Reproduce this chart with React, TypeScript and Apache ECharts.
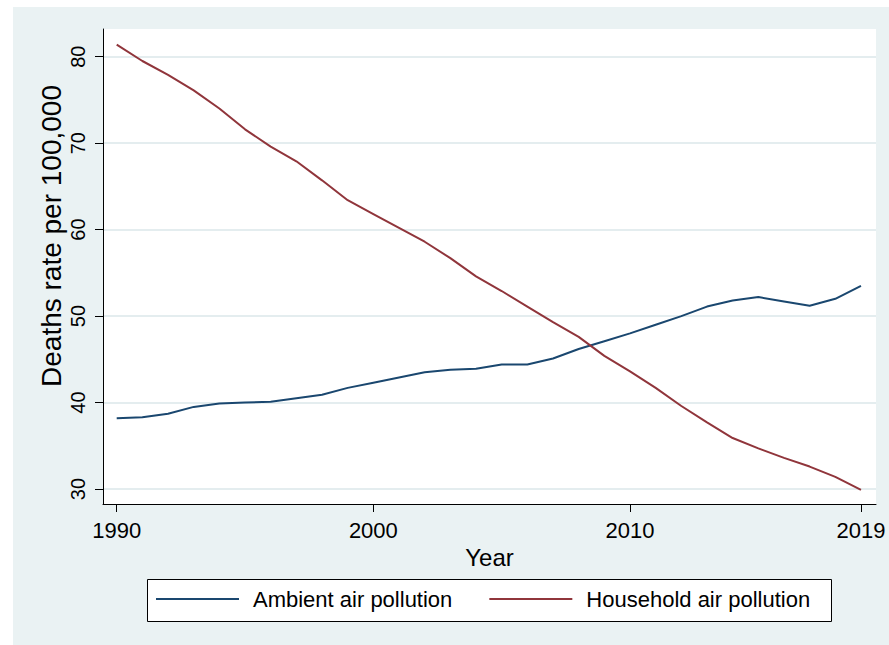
import React, { useEffect, useRef } from "react";
import * as echarts from "echarts";

const years = [
  1990, 1991, 1992, 1993, 1994, 1995, 1996, 1997, 1998, 1999,
  2000, 2001, 2002, 2003, 2004, 2005, 2006, 2007, 2008, 2009,
  2010, 2011, 2012, 2013, 2014, 2015, 2016, 2017, 2018, 2019,
];
const ambient = [
  38.2, 38.3, 38.7, 39.5, 39.9, 40.0, 40.1, 40.5, 40.9, 41.7,
  42.3, 42.9, 43.5, 43.8, 43.9, 44.4, 44.4, 45.1, 46.2, 47.1,
  48.0, 49.0, 50.0, 51.1, 51.8, 52.2, 51.7, 51.2, 52.0, 53.5,
];
const household = [
  81.4, 79.5, 77.9, 76.1, 74.0, 71.6, 69.6, 67.9, 65.7, 63.4,
  61.8, 60.2, 58.6, 56.7, 54.6, 52.9, 51.1, 49.3, 47.6, 45.4,
  43.6, 41.7, 39.6, 37.7, 35.9, 34.7, 33.6, 32.6, 31.4, 29.9,
];
const xTicks = [1990, 2000, 2010, 2019];
const yTicks = [30, 40, 50, 60, 70, 80];
const seriesNames = ["Ambient air pollution", "Household air pollution"];
const yTitle = "Deaths rate per 100,000";
const xTitle = "Year";

const FONT = '"Liberation Sans", Arial, Helvetica, sans-serif';
const BLUE = "#1a476f";
const RED = "#90353b";
const BG = "#eaf2f3";

export default function App() {
  const ref = useRef<HTMLDivElement>(null);
  useEffect(() => {
    if (!ref.current) return;
    const chart = echarts.init(ref.current, null, { renderer: "svg" });
    chart.setOption({
      animation: false,
      backgroundColor: "#ffffff",
      textStyle: { fontFamily: FONT },
      graphic: [
        {
          type: "rect",
          z: -10,
          silent: true,
          shape: { x: 13, y: 7, width: 876, height: 638 },
          style: { fill: BG },
        },
        {
          type: "rect",
          z: 1,
          silent: true,
          shape: { x: 147.5, y: 579.5, width: 684, height: 42 },
          style: { fill: "#ffffff", stroke: "#000000", lineWidth: 1 },
        },
        {
          type: "text",
          z: 5,
          x: 51,
          y: 236,
          rotation: Math.PI / 2,
          style: {
            text: yTitle,
            fontSize: 28,
            fontFamily: FONT,
            fill: "#000000",
            align: "center",
            verticalAlign: "middle",
          },
        },
      ],
      grid: {
        left: 103,
        top: 29,
        right: 13,
        bottom: 141,
        show: true,
        backgroundColor: "#ffffff",
        borderWidth: 0,
      },
      legend: {
        left: 156,
        top: 588,
        padding: 0,
        icon: "rect",
        itemWidth: 83,
        itemHeight: 2,
        itemGap: 37,
        data: seriesNames,
        textStyle: {
          fontSize: 22,
          color: "#000000",
          fontFamily: FONT,
          padding: [0, 0, 0, 9],
        },
      },
      xAxis: {
        type: "value",
        min: 1989.466,
        max: 2019.585,
        name: xTitle,
        nameLocation: "middle",
        nameGap: 33,
        nameTextStyle: { fontSize: 24, color: "#000000", fontFamily: FONT },
        axisLine: { show: true, onZero: false, lineStyle: { color: "#000000", width: 1 } },
        axisTick: { show: true, length: 8, customValues: xTicks, lineStyle: { color: "#000000" } },
        axisLabel: {
          customValues: xTicks,
          margin: 15,
          fontSize: 22,
          color: "#000000",
          fontFamily: FONT,
          formatter: (v: number) => String(v),
        },
        splitLine: { show: false },
      },
      yAxis: {
        type: "value",
        min: 28.27,
        max: 83.2,
        axisLine: { show: true, lineStyle: { color: "#000000", width: 1 } },
        axisTick: { show: true, length: 8, customValues: yTicks, lineStyle: { color: "#000000" } },
        axisLabel: {
          customValues: yTicks,
          rotate: 90,
          margin: 15,
          fontSize: 20,
          color: "#000000",
          fontFamily: FONT,
        },
        splitLine: { show: true, lineStyle: { color: "#e4edef", width: 2 } },
      },
      series: [
        {
          name: seriesNames[0],
          type: "line",
          data: years.map((y, i) => [y, ambient[i]]),
          symbol: "none",
          lineStyle: { color: BLUE, width: 2 },
          itemStyle: { color: BLUE },
        },
        {
          name: seriesNames[1],
          type: "line",
          data: years.map((y, i) => [y, household[i]]),
          symbol: "none",
          lineStyle: { color: RED, width: 2 },
          itemStyle: { color: RED },
        },
      ],
    });
    return () => chart.dispose();
  }, []);
  return (
    <div
      ref={ref}
      style={{ position: "fixed", left: 0, top: 0, width: 889, height: 645 }}
    />
  );
}
